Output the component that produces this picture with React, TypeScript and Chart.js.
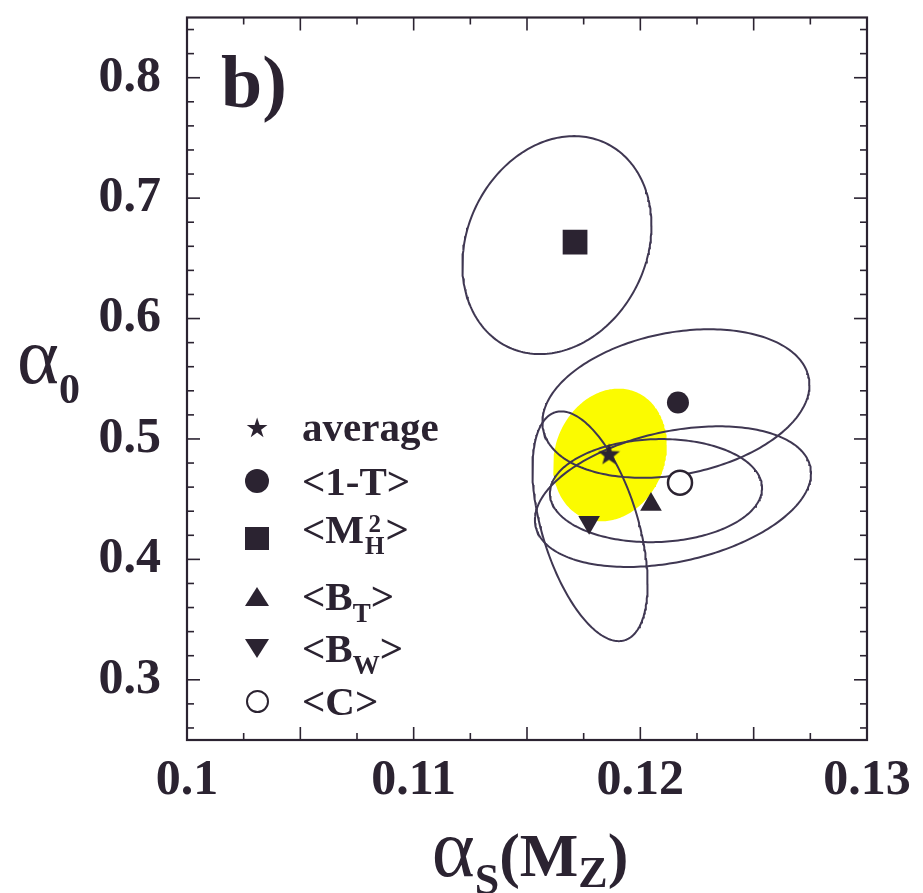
import React, { useEffect, useRef } from 'react';
import { Chart, registerables } from 'chart.js';

Chart.register(...registerables);

const FONT = '"Liberation Serif", "Times New Roman", Times, serif';
const INK = '#2b2331';
const LINE = '#3f3752';
const YELLOW = '#fbfb00';

// Points (central values)
const seriesNames = ['average', '<1-T>', '<M_H^2>', '<B_T>', '<B_W>', '<C>'];
const pointX = [0.11862, 0.12166, 0.11712, 0.12047, 0.11774, 0.12175];
const pointY = [0.4875, 0.5303, 0.6635, 0.4456, 0.4308, 0.4637];

// Error-ellipse parameters (centre, half extent in x and y, correlation)
const ellipseCx = [0.11866, 0.12157, 0.11632, 0.12069, 0.11778, 0.12144];
const ellipseCy = [0.4867, 0.5294, 0.661, 0.4571, 0.4275, 0.4521];
const ellipseSx = [0.00251, 0.00589, 0.00417, 0.00468, 0.00254, 0.00609];
const ellipseSy = [0.0551, 0.0617, 0.0905, 0.0428, 0.0954, 0.0584];
const ellipseRho = [0.15, 0.25, 0.18, 0.05, -0.5, 0.33];

// Axes
const xMin = 0.1;
const xMax = 0.13;
const yMin = 0.25;
const yMax = 0.85;
const xTickValues = [0.1, 0.11, 0.12, 0.13];
const xTickLabels = ['0.1', '0.11', '0.12', '0.13'];
const yTickValues = [0.3, 0.4, 0.5, 0.6, 0.7, 0.8];
const yTickLabels = ['0.3', '0.4', '0.5', '0.6', '0.7', '0.8'];
const xMajorMarks = [0.1, 0.105, 0.11, 0.115, 0.12, 0.125, 0.13];
const xMinorMarks = [0.1025, 0.1075, 0.1125, 0.1175, 0.1225, 0.1275];
const yMajorMarks = [0.3, 0.4, 0.5, 0.6, 0.7, 0.8];
const yMinorMarks = [
  0.26, 0.28, 0.32, 0.34, 0.36, 0.38, 0.42, 0.44, 0.46, 0.48, 0.52, 0.54,
  0.56, 0.58, 0.62, 0.64, 0.66, 0.68, 0.72, 0.74, 0.76, 0.78, 0.82, 0.84,
];

function ellipsePath(i: number) {
  const phi = Math.acos(ellipseRho[i]);
  const pts: { x: number; y: number }[] = [];
  const n = 240;
  for (let k = 0; k <= n; k++) {
    const t = (k / n) * 2 * Math.PI;
    pts.push({
      x: ellipseCx[i] + ellipseSx[i] * Math.cos(t),
      y: ellipseCy[i] + ellipseSy[i] * Math.cos(t - phi),
    });
  }
  return pts;
}

function makeStar(size: number, color: string) {
  const c = document.createElement('canvas');
  c.width = size;
  c.height = size;
  const g = c.getContext('2d')!;
  const R = size / 2;
  const r = R * 0.42;
  g.beginPath();
  for (let k = 0; k < 10; k++) {
    const ang = -Math.PI / 2 + (k * Math.PI) / 5;
    const rad = k % 2 === 0 ? R : r;
    const px = R + rad * Math.cos(ang);
    const py = R + rad * Math.sin(ang) + R * 0.08;
    if (k === 0) g.moveTo(px, py);
    else g.lineTo(px, py);
  }
  g.closePath();
  g.fillStyle = color;
  g.fill();
  return c;
}

const framePlugin = {
  id: 'frameTicks',
  afterDatasetsDraw(chart: any) {
    const { ctx, chartArea: a, scales } = chart;
    const xs = scales.x;
    const ys = scales.y;
    ctx.save();
    ctx.strokeStyle = INK;
    ctx.lineWidth = 1.6;
    const seg = (x1: number, y1: number, x2: number, y2: number) => {
      ctx.beginPath();
      ctx.moveTo(x1, y1);
      ctx.lineTo(x2, y2);
      ctx.stroke();
    };
    const xt = (v: number, len: number) => {
      const p = xs.getPixelForValue(v);
      seg(p, a.bottom, p, a.bottom - len);
      seg(p, a.top, p, a.top + len);
    };
    const yt = (v: number, len: number) => {
      const p = ys.getPixelForValue(v);
      seg(a.left, p, a.left + len, p);
      seg(a.right, p, a.right - len, p);
    };
    xMajorMarks.forEach((v) => xt(v, 13));
    xMinorMarks.forEach((v) => xt(v, 7));
    yMajorMarks.forEach((v) => yt(v, 13));
    yMinorMarks.forEach((v) => yt(v, 7));
    ctx.lineWidth = 2.2;
    ctx.strokeRect(a.left, a.top, a.right - a.left, a.bottom - a.top);
    ctx.restore();
  },
};

function LegendMarker({ kind }: { kind: number }) {
  const base: React.CSSProperties = { display: 'block' };
  if (kind === 0)
    return <span style={{ fontFamily: '"DejaVu Sans"', fontSize: 27, lineHeight: 1, color: INK }}>★</span>;
  if (kind === 1)
    return <span style={{ ...base, width: 24, height: 24, borderRadius: '50%', background: INK }} />;
  if (kind === 2) return <span style={{ ...base, width: 24, height: 23, background: INK }} />;
  if (kind === 3)
    return (
      <span
        style={{
          ...base,
          width: 0,
          height: 0,
          borderLeft: '12px solid transparent',
          borderRight: '12px solid transparent',
          borderBottom: `19px solid ${INK}`,
        }}
      />
    );
  if (kind === 4)
    return (
      <span
        style={{
          ...base,
          width: 0,
          height: 0,
          borderLeft: '12px solid transparent',
          borderRight: '12px solid transparent',
          borderTop: `19px solid ${INK}`,
        }}
      />
    );
  return (
    <span
      style={{ ...base, width: 19, height: 19, borderRadius: '50%', border: `2.5px solid ${INK}`, background: '#fff' }}
    />
  );
}

const subStyle = (size: number, drop: number): React.CSSProperties => ({
  fontSize: size,
  position: 'relative',
  top: drop,
  verticalAlign: 'baseline',
});

function LegendText({ i }: { i: number }) {
  if (i === 0) return <span>average</span>;
  if (i === 1) return <span>{'<1-T>'}</span>;
  if (i === 2)
    return (
      <span>
        {'<M'}
        <span
          style={{
            display: 'inline-flex',
            flexDirection: 'column',
            fontSize: 25,
            lineHeight: 0.85,
            position: 'relative',
            top: -11,
            textAlign: 'center',
            margin: '0 1px',
          }}
        >
          <span>2</span>
          <span>H</span>
        </span>
        {'>'}
      </span>
    );
  if (i === 3)
    return (
      <span>
        {'<B'}
        <span style={subStyle(27, 12)}>T</span>
        {'>'}
      </span>
    );
  if (i === 4)
    return (
      <span>
        {'<B'}
        <span style={subStyle(27, 12)}>W</span>
        {'>'}
      </span>
    );
  return <span>{'<C>'}</span>;
}

const legendRowY = [427, 481, 538, 596, 648, 701];

export default function App() {
  const canvasRef = useRef<HTMLCanvasElement | null>(null);

  useEffect(() => {
    const canvas = canvasRef.current;
    if (!canvas) return;
    const star = makeStar(23, INK);

    const ellipseSets = seriesNames.map((name, i) => ({
      label: name + ' ellipse',
      data: ellipsePath(i),
      showLine: true,
      pointRadius: 0,
      borderColor: i === 0 ? 'rgba(0,0,0,0)' : LINE,
      borderWidth: i === 0 ? 0 : 2,
      backgroundColor: YELLOW,
      fill: i === 0 ? 'shape' : false,
      tension: 0,
      order: i === 0 ? 3 : 2,
    }));

    const pointSet = {
      label: 'points',
      data: pointX.map((x, i) => ({ x, y: pointY[i] })),
      showLine: false,
      pointStyle: [star, 'circle', 'rect', 'triangle', 'triangle', 'circle'],
      pointRotation: [0, 0, 0, 0, 180, 0],
      pointRadius: [11, 11, 17.5, 12.5, 12.5, 12],
      pointBackgroundColor: [INK, INK, INK, INK, INK, '#ffffff'],
      pointBorderColor: INK,
      pointBorderWidth: [0, 0, 0, 0, 0, 2.5],
      order: 0,
    };

    const chart = new Chart(canvas, {
      type: 'scatter',
      data: { datasets: [...ellipseSets, pointSet] as any },
      options: {
        animation: false,
        responsive: false,
        devicePixelRatio: 1,
        layout: { padding: { top: 10, right: 56, left: 0, bottom: 0 } },
        plugins: { legend: { display: false }, tooltip: { enabled: false } },
        scales: {
          x: {
            type: 'linear',
            min: xMin,
            max: xMax,
            grid: { display: false, drawTicks: false },
            border: { display: false },
            afterBuildTicks: (s: any) => {
              s.ticks = xTickValues.map((v) => ({ value: v }));
            },
            afterFit: (s: any) => {
              s.height = 153;
              s.paddingLeft = 0;
              s.paddingRight = 0;
              s.paddingTop = 0;
              s.paddingBottom = 0;
            },
            ticks: {
              autoSkip: false,
              maxRotation: 0,
              padding: 11,
              color: INK,
              font: { family: FONT, size: 50, weight: 'bold' },
              callback: (v: any) => xTickLabels[xTickValues.findIndex((t) => Math.abs(t - v) < 1e-9)],
            },
          },
          y: {
            type: 'linear',
            min: yMin,
            max: yMax,
            grid: { display: false, drawTicks: false },
            border: { display: false },
            afterBuildTicks: (s: any) => {
              s.ticks = yTickValues.map((v) => ({ value: v }));
            },
            afterFit: (s: any) => {
              s.width = 187;
              s.paddingLeft = 0;
              s.paddingRight = 0;
              s.paddingTop = 0;
              s.paddingBottom = 0;
            },
            ticks: {
              autoSkip: false,
              padding: 26,
              color: INK,
              font: { family: FONT, size: 50, weight: 'bold' },
              callback: (v: any) => yTickLabels[yTickValues.findIndex((t) => Math.abs(t - v) < 1e-9)],
            },
          },
        },
      } as any,
      plugins: [framePlugin],
    });
    return () => chart.destroy();
  }, []);

  return (
    <div
      style={{
        position: 'absolute',
        left: 0,
        top: 0,
        width: 923,
        height: 893,
        overflow: 'hidden',
        background: '#ffffff',
        fontFamily: FONT,
        color: INK,
      }}
    >
      <canvas ref={canvasRef} width={923} height={893} style={{ position: 'absolute', left: 0, top: 0 }} />

      <div style={{ position: 'absolute', left: 221, top: 45, fontSize: 74, fontWeight: 'bold', lineHeight: 1 }}>b)</div>

      {seriesNames.map((name, i) => (
        <div
          key={name}
          style={{
            position: 'absolute',
            left: 240,
            top: legendRowY[i] - 25,
            height: 50,
            display: 'flex',
            alignItems: 'center',
            whiteSpace: 'nowrap',
          }}
        >
          <span style={{ width: 34, display: 'flex', justifyContent: 'center', alignItems: 'center' }}>
            <LegendMarker kind={i} />
          </span>
          <span style={{ marginLeft: 28, fontSize: 41, fontWeight: 'bold', lineHeight: 1 }}>
            <LegendText i={i} />
          </span>
        </div>
      ))}

      <div style={{ position: 'absolute', left: 17, top: 316, lineHeight: 1, whiteSpace: 'nowrap' }}>
        <span style={{ fontSize: 80 }}>α</span>
        <span style={{ ...subStyle(42, 20), fontWeight: 'bold' }}>0</span>
      </div>

      <div
        style={{
          position: 'absolute',
          left: 330,
          width: 400,
          top: 808,
          lineHeight: 1,
          textAlign: 'center',
          whiteSpace: 'nowrap',
          fontSize: 62,
          fontWeight: 'bold',
        }}
      >
        <span style={{ fontSize: 82, fontWeight: 'normal' }}>α</span>
        <span style={subStyle(44, 18)}>S</span>
        <span>(M</span>
        <span style={subStyle(44, 11)}>Z</span>
        <span>)</span>
      </div>
    </div>
  );
}
